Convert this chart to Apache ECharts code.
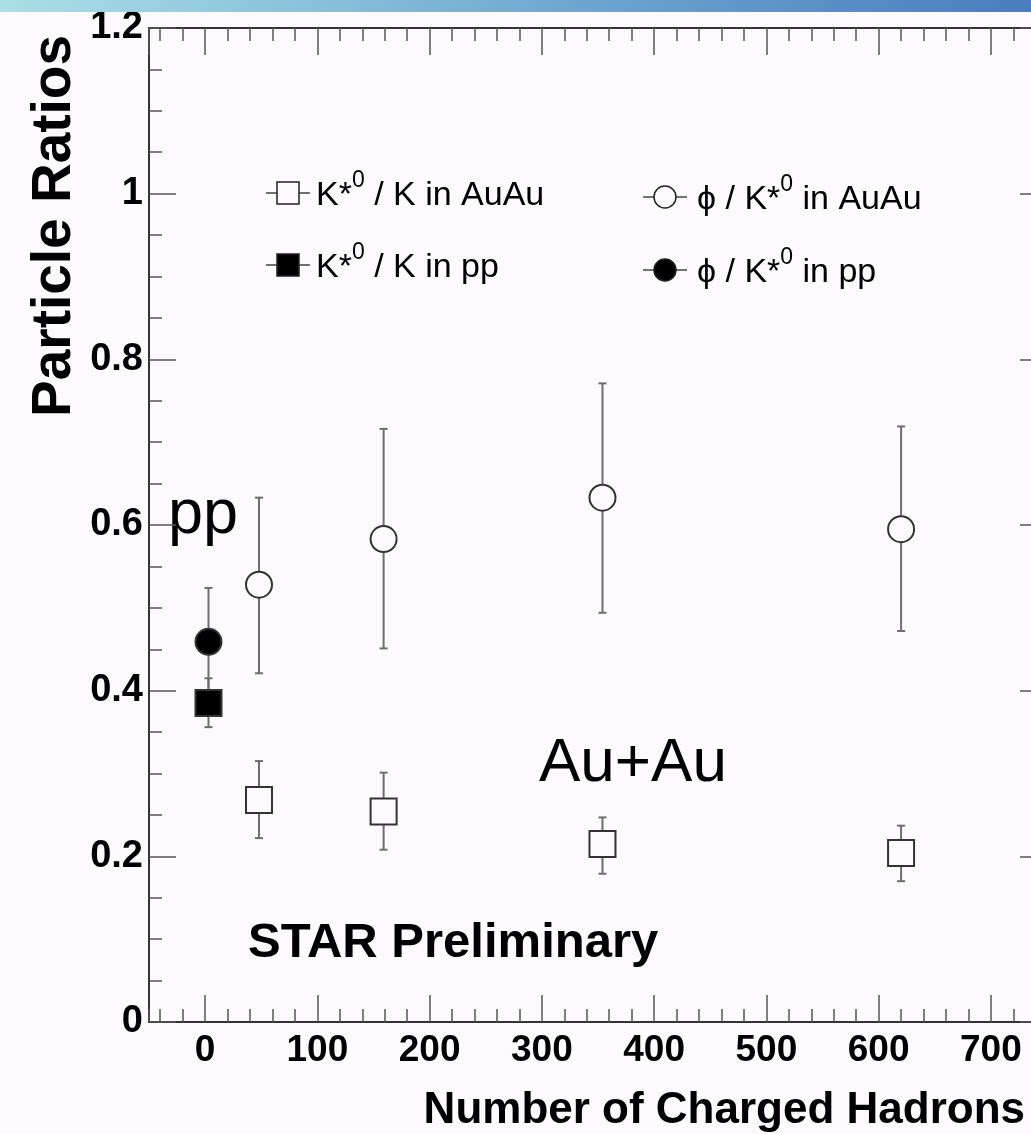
<!DOCTYPE html>
<html>
<head>
<meta charset="utf-8">
<style>
html,body{margin:0;padding:0;background:#fdfafd;}
#c{width:1031px;height:1134px;}
</style>
<script src="https://cdn.jsdelivr.net/npm/echarts@6/dist/echarts.min.js"></script>
</head>
<body>
<div id="c"></div>
<script>
// ---- Data ----
const ppX = [3];
const ppKstarK = [0.385];
const ppKstarKLo = [0.356];
const ppKstarKHi = [0.415];
const ppPhiKstar = [0.459];
const ppPhiKstarLo = [0.395];
const ppPhiKstarHi = [0.524];

const auX = [48, 159, 354, 620];
const auKstarK = [0.268, 0.254, 0.215, 0.204];
const auKstarKLo = [0.222, 0.208, 0.179, 0.170];
const auKstarKHi = [0.315, 0.301, 0.247, 0.237];
const auPhiKstar = [0.528, 0.583, 0.633, 0.595];
const auPhiKstarLo = [0.421, 0.451, 0.494, 0.472];
const auPhiKstarHi = [0.633, 0.716, 0.771, 0.719];

const xTickLabels = ['0', '100', '200', '300', '400', '500', '600', '700'];
const yTickLabels = ['0', '0.2', '0.4', '0.6', '0.8', '1', '1.2'];

const xTitle = 'Number of Charged Hadrons';
const yTitle = 'Particle Ratios';
const legendNames = ['K*0 / K in AuAu', 'ϕ / K*0 in AuAu', 'K*0 / K in pp', 'ϕ / K*0 in pp'];

// ---- helpers ----
const FONT = '"Liberation Sans", Arial, Helvetica, sans-serif';
const pts = (xs, ys) => xs.map((x, i) => [x, ys[i]]);
const errs = (xs, lo, hi) => xs.map((x, i) => [x, lo[i], hi[i]]);

function errRender(params, api) {
  const x = api.value(0), lo = api.value(1), hi = api.value(2);
  const p1 = api.coord([x, hi]);
  const p2 = api.coord([x, lo]);
  const cap = 4;
  const style = { stroke: '#6e6e6e', lineWidth: 2 };
  return {
    type: 'group',
    children: [
      { type: 'line', shape: { x1: p1[0], y1: p1[1], x2: p2[0], y2: p2[1] }, style: style },
      { type: 'line', shape: { x1: p1[0] - cap, y1: p1[1], x2: p1[0] + cap, y2: p1[1] }, style: style },
      { type: 'line', shape: { x1: p2[0] - cap, y1: p2[1], x2: p2[0] + cap, y2: p2[1] }, style: style }
    ]
  };
}

const axisLineStyle = { color: '#333', width: 2 };
const tickStyle = { color: '#555', width: 1.5 };

const xBase = {
  type: 'value', min: -50, max: 750,
  splitLine: { show: false },
  axisLine: { show: true, onZero: false, lineStyle: axisLineStyle }
};
function xMajor(pos, labels) {
  return Object.assign({}, xBase, {
    position: pos, splitNumber: 8, minInterval: 100, maxInterval: 100,
    axisTick: { show: true, inside: true, length: 27, lineStyle: tickStyle },
    axisLabel: labels ? {
      show: true, margin: 10, color: '#000', fontSize: 37, fontWeight: 'bold', fontFamily: FONT,
      showMinLabel: false, showMaxLabel: false,
      formatter: function (v) {
        const s = String(Math.round(v));
        return xTickLabels.indexOf(s) >= 0 ? s : '';
      }
    } : { show: false }
  });
}
function xMinor(pos) {
  return Object.assign({}, xBase, {
    position: pos, splitNumber: 40, minInterval: 20, maxInterval: 20,
    axisTick: { show: true, inside: true, length: 13, lineStyle: tickStyle },
    axisLabel: { show: false }
  });
}
function yAx(pos, labels) {
  return {
    type: 'value', min: 0, max: 1.2, interval: 0.2, position: pos,
    splitLine: { show: false },
    axisLine: { show: true, onZero: false, lineStyle: axisLineStyle },
    axisTick: { show: true, inside: true, length: 27, lineStyle: tickStyle },
    minorTick: { show: true, splitNumber: 4, length: 13, lineStyle: tickStyle },
    axisLabel: labels ? {
      show: true, margin: 6, color: '#000', fontSize: 38, fontWeight: 'bold', fontFamily: FONT,
      formatter: function (v) {
        const s = String(Math.round(v * 10) / 10);
        return yTickLabels.indexOf(s) >= 0 ? s : '';
      }
    } : { show: false }
  };
}

const legendRich = {
  n: { fontSize: 34, fontFamily: FONT, fill: '#000', lineHeight: 44, verticalAlign: 'bottom' },
  s: { fontSize: 23, fontFamily: FONT, fill: '#000', lineHeight: 44, verticalAlign: 'top' }
};
function legendText(name) {
  const parts = name.split('0');
  return '{n|' + parts[0] + '}{s|0}{n|' + parts[1] + '}';
}
function legendItem(x, y, symbol, filled, name, tx) {
  const els = [
    { type: 'line', shape: { x1: x, y1: y, x2: x + 44, y2: y }, style: { stroke: '#444', lineWidth: 1.5 } }
  ];
  const cx = x + 22;
  if (symbol === 'rect') {
    els.push({ type: 'rect', shape: { x: cx - 11, y: y - 11, width: 22, height: 22 },
      style: { fill: filled ? '#000' : '#fdfafd', stroke: '#222', lineWidth: 1.5 } });
  } else {
    els.push({ type: 'circle', shape: { cx: cx, cy: y, r: 11 },
      style: { fill: filled ? '#000' : '#fdfafd', stroke: '#222', lineWidth: 1.5 } });
  }
  els.push({ type: 'text', x: tx, y: y - 2,
    style: { text: legendText(name), rich: legendRich, align: 'left', verticalAlign: 'middle' } });
  return els;
}

const chart = echarts.init(document.getElementById('c'), null, { renderer: 'canvas' });

const graphics = [
  { type: 'rect', shape: { x: 0, y: 0, width: 1031, height: 12 }, z: 10,
    style: { fill: new echarts.graphic.LinearGradient(0, 0, 1, 0, [
      { offset: 0, color: '#aadfe6' }, { offset: 0.6, color: '#6aa2cf' }, { offset: 1, color: '#4a7dbd' }]) } },
  { type: 'text', x: 55, y: 226, rotation: Math.PI / 2,
    style: { text: yTitle, fontSize: 55, fontWeight: 'bold', fontFamily: FONT, fill: '#000', align: 'center', verticalAlign: 'middle' } },
  { type: 'text', x: 1025, y: 1111,
    style: { text: xTitle, fontSize: 44, fontWeight: 'bold', fontFamily: FONT, fill: '#000', align: 'right', verticalAlign: 'middle' } },
  { type: 'text', x: 248, y: 943,
    style: { text: 'STAR Preliminary', fontSize: 49, fontWeight: 'bold', fontFamily: FONT, fill: '#000', align: 'left', verticalAlign: 'middle' } },
  { type: 'text', x: 168, y: 484,
    style: { text: 'pp', fontSize: 63, fontFamily: FONT, fill: '#000', align: 'left', verticalAlign: 'alphabetic' } },
  { type: 'text', x: 539, y: 733,
    style: { text: 'Au+Au', fontSize: 62, fontFamily: FONT, fill: '#000', align: 'left', verticalAlign: 'alphabetic' } }
].concat(
  legendItem(266, 193, 'rect', false, legendNames[0], 316),
  legendItem(643, 197, 'circle', false, legendNames[1], 697),
  legendItem(266, 265, 'rect', true, legendNames[2], 316),
  legendItem(643, 270, 'circle', true, legendNames[3], 697)
);

function scatter(name, data, symbol, filled) {
  return {
    type: 'scatter', name: name, data: data, symbol: symbol, symbolSize: 26,
    xAxisIndex: 0, yAxisIndex: 0, z: 5,
    itemStyle: { color: filled ? '#000' : '#fdfafd', borderColor: '#333', borderWidth: 2, opacity: 1 },
    emphasis: { disabled: true }
  };
}
function errSeries(data) {
  return {
    type: 'custom', renderItem: errRender, data: data, xAxisIndex: 0, yAxisIndex: 0, z: 3,
    encode: { x: 0, y: [1, 2] }, silent: true
  };
}

chart.setOption({
  backgroundColor: '#fdfafd',
  animation: false,
  grid: { left: 149, top: 28, width: 898, height: 994, containLabel: false, outerBoundsMode: 'none' },
  xAxis: [xMajor('bottom', true), xMinor('bottom'), xMajor('top', false), xMinor('top')],
  yAxis: [yAx('left', true), yAx('right', false)],
  graphic: graphics,
  series: [
    errSeries(errs(auX, auKstarKLo, auKstarKHi)),
    errSeries(errs(auX, auPhiKstarLo, auPhiKstarHi)),
    errSeries(errs(ppX, ppPhiKstarLo, ppPhiKstarHi)),
    errSeries(errs(ppX, ppKstarKLo, ppKstarKHi)),
    scatter(legendNames[0], pts(auX, auKstarK), 'rect', false),
    scatter(legendNames[1], pts(auX, auPhiKstar), 'circle', false),
    scatter(legendNames[3], pts(ppX, ppPhiKstar), 'circle', true),
    scatter(legendNames[2], pts(ppX, ppKstarK), 'rect', true)
  ]
});
</script>
</body>
</html>
